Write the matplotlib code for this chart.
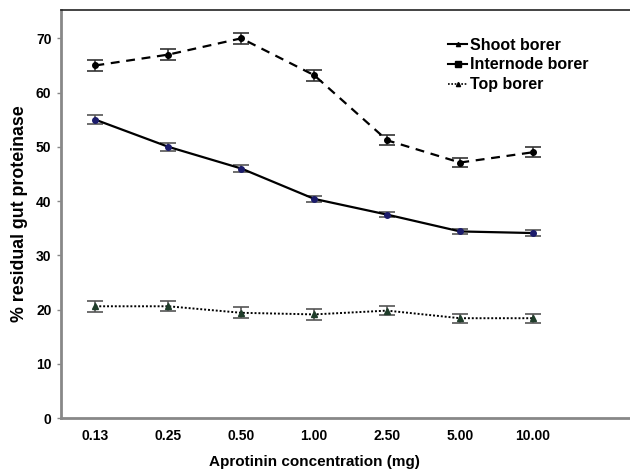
import matplotlib
matplotlib.use("Agg")
from matplotlib import pyplot as plt
from matplotlib.lines import Line2D

plt.rcParams['font.family'] = ['Liberation Sans', 'DejaVu Sans']
plt.rcParams['font.weight'] = 'bold'

conc = ["0.13", "0.25", "0.50", "1.00", "2.50", "5.00", "10.00"]
shoot = [55.0, 50.0, 46.0, 40.4, 37.5, 34.4, 34.1]
shoot_err = [0.8, 0.7, 0.7, 0.6, 0.5, 0.5, 0.6]
internode = [65.0, 67.0, 70.0, 63.2, 51.2, 47.1, 49.0]
internode_err = [1.0, 1.0, 1.0, 1.0, 0.9, 0.8, 0.9]
top = [20.6, 20.6, 19.4, 19.1, 19.8, 18.4, 18.4]
top_err = [1.0, 0.9, 1.0, 1.0, 0.9, 0.8, 0.8]
names = ["Shoot borer", "Internode borer", "Top borer"]

x = list(range(len(conc)))
fig = plt.figure(figsize=(6.3, 4.71), dpi=100)
ax = fig.add_axes([0.097, 0.1125, 0.903, 0.866])

ax.errorbar(x, shoot, yerr=shoot_err, color="black", lw=1.6, marker="o", ms=4,
            mfc="#1c1c6b", mec="#1c1c6b", ecolor="#555555", elinewidth=1.2,
            capsize=6, capthick=1.2)
ax.errorbar(x, internode, yerr=internode_err, color="black", lw=1.6, ls=(0, (4, 3)),
            marker="o", ms=4, mfc="black", mec="black", ecolor="#333333",
            elinewidth=1.2, capsize=6, capthick=1.2)
ax.errorbar(x, top, yerr=top_err, color="black", lw=1.4, ls=(0, (1, 1)),
            marker="^", ms=4, mfc="#1f3d2a", mec="#1f3d2a", ecolor="#555555",
            elinewidth=1.2, capsize=6, capthick=1.2)

ax.set_xlim(-0.47, 7.33)
ax.set_ylim(0, 75.2)
ax.set_xticks(x)
ax.set_xticklabels(conc)
ax.set_yticks(range(0, 71, 10))
ax.tick_params(axis="x", length=0, pad=8, labelsize=10)
ax.tick_params(axis="y", length=3, width=1, color="#888888", labelsize=10, pad=4)
for lab in ax.get_xticklabels() + ax.get_yticklabels():
    lab.set_fontweight("bold")
ax.spines["right"].set_visible(False)
ax.spines["left"].set_color("#888888")
ax.spines["bottom"].set_color("#888888")
ax.spines["left"].set_linewidth(2)
ax.spines["bottom"].set_linewidth(2)
ax.spines["top"].set_color("#222222")
ax.spines["top"].set_linewidth(1.2)

ax.set_xlabel("Aprotinin concentration (mg)", fontsize=11, fontweight="bold")
ax.xaxis.set_label_coords(0.445, -0.09)
ax.set_ylabel("% residual gut proteinase", fontsize=12.8, fontweight="bold", labelpad=6)

handles = [
    Line2D([], [], color="black", lw=1.5, marker="^", ms=3),
    Line2D([], [], color="black", lw=1.5, marker="s", ms=4),
    Line2D([], [], color="black", lw=1.2, ls=(0, (1, 1)), marker="^", ms=3),
]
ax.legend(handles, names, loc="upper left", bbox_to_anchor=(0.655, 0.968), frameon=False,
          handlelength=1.2, handletextpad=0.2, labelspacing=0.3,
          prop={"weight": "bold", "size": 11.5})

fig.savefig("out.png", dpi=100)
